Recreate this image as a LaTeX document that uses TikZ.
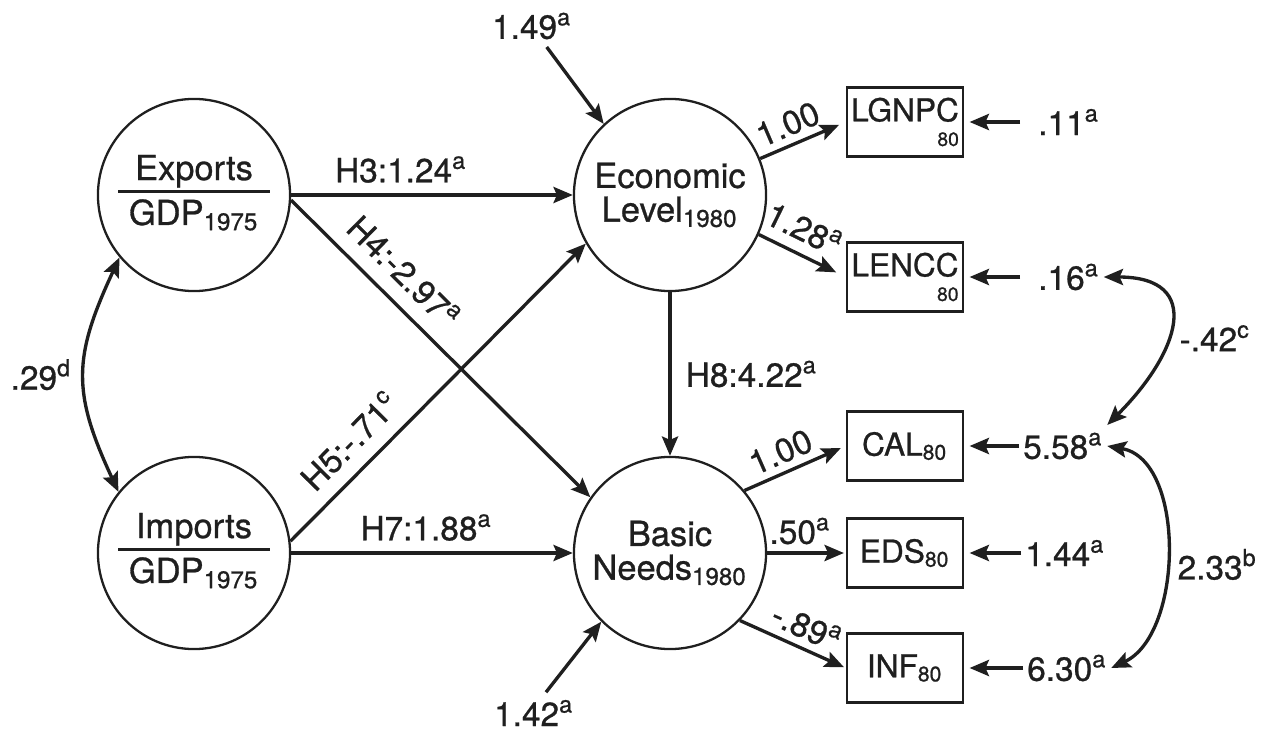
\documentclass[tikz,border=0pt]{standalone}
\usepackage{fontspec}
\setmainfont{TeX Gyre Heros}[FakeBold=0.8]
\usetikzlibrary{arrows.meta,positioning}
\newcommand{\sigl}[1]{\textsuperscript{#1}}
\newcommand{\ratiolabel}[3]{{\setlength{\arrayrulewidth}{0.9pt}%
  \begin{tabular}{@{\hspace{3pt}}c@{\hspace{3pt}}}#1\\\hline\rule{0pt}{9pt}#2\textsubscript{#3}\end{tabular}}}
\tikzset{
  latent/.style={
    circle, draw=black!88, line width=0.65pt,
    minimum size=1.92cm, inner sep=0pt,
    align=center, font=\fontsize{9.8}{9.6}\selectfont},
  indic/.style={
    rectangle, draw=black!88, line width=0.75pt,
    minimum width=1.16cm, minimum height=0.69cm,
    inner sep=1pt, font=\fontsize{9}{9}\selectfont},
  coef/.style={font=\fontsize{9.5}{10}\selectfont, inner sep=2pt},
  resid/.style={coef, anchor=west, inner xsep=1pt},
  link/.style={-{Stealth[length=5.5pt,width=4.6pt,inset=1pt]}, line width=0.95pt, draw=black!88},
  covar/.style={{Stealth[length=5.5pt,width=4.6pt,inset=1pt]}-{Stealth[length=5.5pt,width=4.6pt,inset=1pt]},
    line width=0.95pt, draw=black!88},
}
\begin{document}
\begin{tikzpicture}[x=0.01cm, y=0.01cm, color=black!88]
  \useasboundingbox (0,0) rectangle (1273,730);
  \node[latent] (exp) at (194,535) {\ratiolabel{Exports}{GDP}{1975}};
  \node[latent] (imp) at (194,177) {\ratiolabel{Imports}{GDP}{1975}};
  \node[latent] (eco) at (670,535) {Economic\\Level\textsubscript{1980}};
  \node[latent] (bas) at (670,177) {Basic\\Needs\textsubscript{1980}};

  \node[indic, align=right] (lgnpc) at (905,608) {LGNPC\\[-2pt]{\fontsize{5.5}{6}\selectfont 80}};
  \node[indic, align=right] (lencc) at (905,453) {LENCC\\[-2pt]{\fontsize{5.5}{6}\selectfont 80}};
  \node[indic] (cal) at (905,284) {CAL\textsubscript{80}};
  \node[indic] (eds) at (905,177) {EDS\textsubscript{80}};
  \node[indic] (inf) at (905,62) {INF\textsubscript{80}};

  \node[resid] (e11) at (1020,608) {\hspace{4pt}.11\sigl{a}};
  \node[resid] (e16) at (1020,453) {\hspace{4pt}.16\sigl{a}\hspace{2pt}};
  \node[resid] (e558) at (1019,284) {5.58\sigl{a}\hspace{3pt}};
  \node[resid] (e144) at (1021,177) {1.44\sigl{a}};
  \node[resid] (e630) at (1023,62) {6.30\sigl{a}\hspace{2pt}};
  \node[coef] (e149) at (532,704) {1.49\sigl{a}};
  \node[coef] (e142) at (534,17) {1.42\sigl{a}};

  \draw[link] (exp) -- node[coef, above=1pt, pos=0.39] {H3:1.24\sigl{a}} (eco);
  \draw[link] (exp.-3) -- node[coef, sloped, above=2pt, pos=0.31] {H4:-2.97\sigl{a}} (bas.145);
  \draw[link] (imp.7) -- node[coef, sloped, above=2pt, pos=0.27] {H5:-.71\sigl{c}} (eco.210);
  \draw[link] (imp) -- node[coef, above=1pt, pos=0.48] {H7:1.88\sigl{a}} (bas);
  \draw[link] (eco) -- node[coef, right=2pt] {H8:4.22\sigl{a}} (bas);

  \draw[link, shorten >=2pt] (eco.22) -- node[coef, sloped, above, pos=0.42] {1.00} (lgnpc.west);
  \draw[link, shorten >=3pt] (eco.-24) -- node[coef, sloped, above=1pt, pos=0.4] {1.28\sigl{a}} (lencc.west);
  \draw[link, shorten >=1.5pt] (bas.40) -- node[coef, sloped, above, pos=0.44] {1.00} (cal.west);
  \draw[link, shorten >=0.5pt] (bas) -- node[coef, above, pos=0.42] {.50\sigl{a}} (eds.west);
  \draw[link, shorten >=0.5pt] (bas.-44) -- node[coef, sloped, above, pos=0.55] {-.89\sigl{a}} (inf.west);

  \draw[link] (e149.-55) -- (eco.133);
  \draw[link] (e142.60) -- (bas.225);
  \foreach \e/\b in {e11/lgnpc, e16/lencc, e558/cal, e144/eds, e630/inf}
    \draw[link, shorten >=1.5pt] (\e.west) -- (\b.east);

  \draw[covar] (exp.220) to[out=245, in=115, looseness=1.2] node[coef, left=1pt] {.29\sigl{d}} (imp.141);
  \draw[covar] (e16.east) to[out=0, in=45, looseness=1.75] node[coef, right=1pt, pos=0.58] {-.42\sigl{c}} (e558.north east);
  \draw[covar] (e558.east) to[out=-10, in=25, looseness=0.92] node[coef, right=1pt, pos=0.55] {2.33\sigl{b}} (e630.east);
\end{tikzpicture}
\end{document}
